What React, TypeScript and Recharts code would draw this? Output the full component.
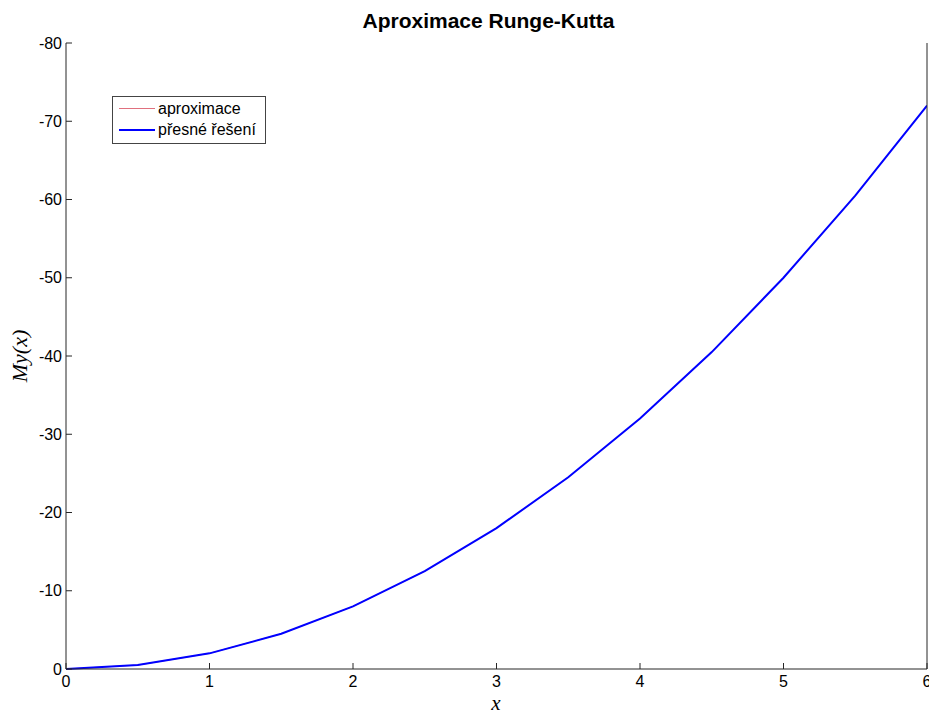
import React from "react";
import { LineChart, Line, XAxis, YAxis, Legend } from "recharts";

// hodnoty (krok 0.5)
const xs = [0, 0.5, 1, 1.5, 2, 2.5, 3, 3.5, 4, 4.5, 5, 5.5, 6];
const aproximace = [0, -0.5, -2, -4.5, -8, -12.5, -18, -24.5, -32, -40.5, -50, -60.5, -72];
const presne = [0, -0.5, -2, -4.5, -8, -12.5, -18, -24.5, -32, -40.5, -50, -60.5, -72];

const xTicks = [0, 1, 2, 3, 4, 5, 6];
const yTicks = [-80, -70, -60, -50, -40, -30, -20, -10, 0];

const data = xs.map((x, i) => ({ x, aproximace: aproximace[i], presne: presne[i] }));

const AXIS = "#262626";
const tickFont = { fontSize: 16, fill: "#000", fontFamily: "Arial, 'Liberation Sans', sans-serif" };

function LegendBox() {
  const rows = [
    { label: "aproximace", color: "#e0707e", width: 1 },
    { label: "přesné řešení", color: "#0000ff", width: 2 },
  ];
  return (
    <div
      style={{
        border: "1px solid #444",
        background: "#fff",
        width: 152,
        height: 45,
        boxSizing: "content-box",
        fontFamily: "Arial, 'Liberation Sans', sans-serif",
        fontSize: 16,
        paddingTop: 1,
      }}
    >
      {rows.map((r) => (
        <div key={r.label} style={{ display: "flex", alignItems: "center", height: 21, lineHeight: "21px" }}>
          <span style={{ display: "inline-block", marginLeft: 6, width: 36, height: 0, borderTop: `${r.width}px solid ${r.color}` }} />
          <span style={{ marginLeft: 3, color: "#000" }}>{r.label}</span>
        </div>
      ))}
    </div>
  );
}

export default function App() {
  return (
    <div style={{ position: "absolute", left: 0, top: 0, width: 929, height: 711, background: "#fff" }}>
      <div
        style={{
          position: "absolute",
          top: 9,
          left: 66,
          width: 861,
          textAlign: "center",
          fontFamily: "Arial, 'Liberation Sans', sans-serif",
          fontWeight: "bold",
          fontSize: 21,
          lineHeight: "24px",
          marginLeft: -8,
        }}
      >
        Aproximace Runge-Kutta
      </div>
      <div
        style={{
          position: "absolute",
          left: 20,
          top: 356,
          transform: "translate(-50%, -50%) rotate(-90deg)",
          fontFamily: "'Liberation Serif', 'DejaVu Serif', serif",
          fontStyle: "italic",
          fontSize: 22,
          whiteSpace: "nowrap",
        }}
      >
        My(x)
      </div>
      <div
        style={{
          position: "absolute",
          left: 496,
          top: 703,
          transform: "translate(-50%, -50%)",
          fontFamily: "'Liberation Serif', 'DejaVu Serif', serif",
          fontStyle: "italic",
          fontSize: 21,
        }}
      >
        x
      </div>
      <LineChart width={929} height={711} data={data} margin={{ top: 43, right: 0, bottom: 0, left: 0 }}>
        <XAxis
          dataKey="x"
          type="number"
          domain={[0, 6]}
          ticks={xTicks}
          interval={0}
          height={42}
          tickSize={-6}
          tickMargin={13}
          stroke={AXIS}
          tick={tickFont}
          allowDataOverflow
        />
        <XAxis
          xAxisId="top"
          orientation="top"
          dataKey="x"
          type="number"
          domain={[0, 6]}
          ticks={xTicks}
          height={0}
          tickSize={-6}
          stroke={AXIS}
          tickFormatter={() => ""}
        />
        <YAxis
          type="number"
          domain={[-80, 0]}
          reversed
          ticks={yTicks}
          interval={0}
          width={66}
          tickSize={-6}
          tickMargin={10}
          stroke={AXIS}
          tick={tickFont}
        />
        <YAxis
          yAxisId="right"
          orientation="right"
          type="number"
          domain={[-80, 0]}
          reversed
          ticks={yTicks}
          width={2}
          tickSize={-6}
          stroke={AXIS}
          tickFormatter={() => ""}
        />
        <Legend
          layout="horizontal"
          verticalAlign="middle"
          align="center"
          wrapperStyle={{ position: "absolute", left: 112, top: 96, width: "auto" }}
          content={() => <LegendBox />}
        />
        <Line
          dataKey="aproximace"
          stroke="#e0707e"
          strokeWidth={1}
          dot={false}
          type="linear"
          isAnimationActive={false}
        />
        <Line
          dataKey="presne"
          stroke="#0000ff"
          strokeWidth={2}
          dot={false}
          type="linear"
          isAnimationActive={false}
        />
      </LineChart>
    </div>
  );
}
